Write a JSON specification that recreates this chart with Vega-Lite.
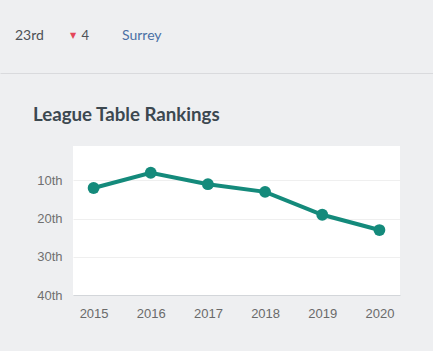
{
  "$schema": "https://vega.github.io/schema/vega-lite/v6.json",
  "background": "#eeeff1",
  "padding": {"left": 0, "top": 0, "right": 0, "bottom": 33},
  "spacing": 33,
  "config": {"view": {"stroke": null}, "font": "Liberation Sans"},
  "vconcat": [
    {
      "width": 360,
      "height": 73,
      "data": {"values": [
        {"key": "rank", "label": "23rd"},
        {"key": "move", "label": "4"},
        {"key": "county", "label": "Surrey"}
      ]},
      "layer": [
        {
          "layer": [
            {
              "transform": [{"filter": "datum.key === 'rank'"}],
              "mark": {"type": "text", "align": "left", "baseline": "middle", "font": "Lato", "fontSize": 14, "color": "#4d5156", "dy": -1},
              "encoding": {
                "x": {"field": "key", "type": "nominal", "axis": null, "scale": {"type": "point", "padding": 0, "domain": ["rank", "move", "county"], "range": [-58, 49]}},
                "text": {"field": "label"}
              }
            },
            {
              "transform": [{"filter": "datum.key === 'move'"}],
              "mark": {"type": "text", "align": "left", "baseline": "middle", "font": "DejaVu Sans", "fontSize": 8, "color": "#e4475a", "dx": 1.5, "dy": -1},
              "encoding": {
                "x": {"field": "key", "type": "nominal", "axis": null},
                "text": {"value": "▼"}
              }
            },
            {
              "transform": [{"filter": "datum.key === 'move'"}],
              "mark": {"type": "text", "align": "left", "baseline": "middle", "font": "Lato", "fontSize": 13, "color": "#4d5156", "dx": 13, "dy": -1},
              "encoding": {
                "x": {"field": "key", "type": "nominal", "axis": null},
                "text": {"field": "label"}
              }
            },
            {
              "transform": [{"filter": "datum.key === 'county'"}],
              "mark": {"type": "text", "align": "left", "baseline": "middle", "font": "Lato", "fontSize": 14, "color": "#4a6fa5", "dy": -1},
              "encoding": {
                "x": {"field": "key", "type": "nominal", "axis": null},
                "text": {"field": "label"}
              }
            }
          ]
        },
        {
          "mark": {"type": "point", "opacity": 0},
          "encoding": {
            "x": {"field": "key", "type": "nominal", "scale": {"type": "point", "range": [-73, 360]},
              "axis": {"title": null, "labels": false, "ticks": false, "domain": true, "domainColor": "#d9dadd", "domainWidth": 1, "grid": false}}
          }
        }
      ],
      "resolve": {"scale": {"x": "independent"}, "axis": {"x": "independent"}}
    },
    {
      "width": 327,
      "height": 149,
      "view": {"fill": "#ffffff", "stroke": null},
      "title": {"text": "League Table Rankings", "anchor": "start", "frame": "group", "font": "Lato", "fontSize": 18.7, "fontWeight": "bold", "color": "#3c4850", "offset": 21, "dx": -40},
      "data": {"values": [
        {"year": "2015", "rank": 12},
        {"year": "2016", "rank": 8},
        {"year": "2017", "rank": 11},
        {"year": "2018", "rank": 13},
        {"year": "2019", "rank": 19},
        {"year": "2020", "rank": 23}
      ]},
      "encoding": {
        "x": {"field": "year", "type": "ordinal", "scale": {"type": "point", "padding": 0.36},
          "axis": {"title": null, "labelAngle": 0, "ticks": false, "tickSize": 0, "domainColor": "#d3d6da", "labelColor": "#6a6a6a", "labelFontSize": 13, "labelPadding": 12, "grid": false}},
        "y": {"field": "rank", "type": "quantitative", "scale": {"domain": [1, 40], "reverse": true, "nice": false, "zero": false},
          "axis": {"title": null, "values": [10, 20, 30, 40], "labelExpr": "datum.value + 'th'", "domain": false, "ticks": false, "tickSize": 0, "gridColor": "#efefef", "labelColor": "#707070", "labelFontSize": 13, "labelPadding": 11, "minExtent": 73}}
      },
      "layer": [
        {"mark": {"type": "line", "color": "#148a7b", "strokeWidth": 4}},
        {"mark": {"type": "point", "filled": true, "opacity": 1, "color": "#148a7b", "size": 140}}
      ]
    }
  ]
}
